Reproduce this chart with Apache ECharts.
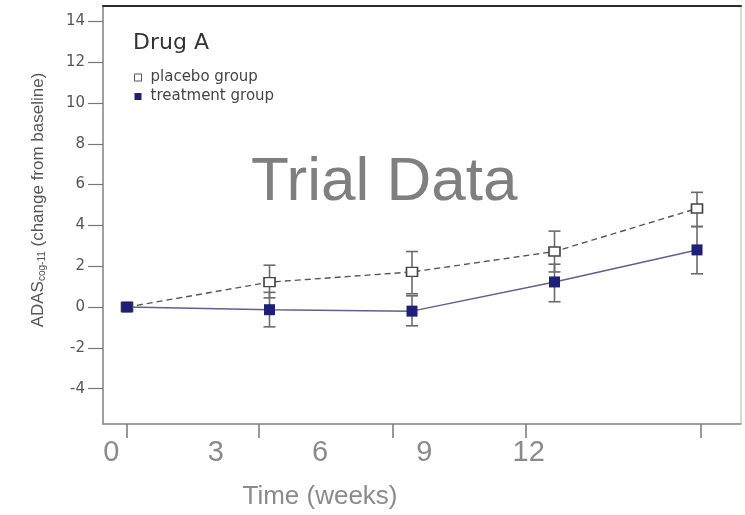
<!DOCTYPE html>
<html>
<head>
<meta charset="utf-8">
<script src="https://cdn.jsdelivr.net/npm/echarts@6/dist/echarts.min.js"></script>
<style>html,body{margin:0;padding:0;background:#fff}#c{width:745px;height:515px}</style>
</head>
<body>
<div id="c"></div>
<script>
// ---- data ----
var weeks = [0, 4, 8, 12, 16];
var placeboMean = [0, 1.22, 1.72, 2.72, 4.83];
var placeboLow  = [null, 0.45, 0.65, 1.72, 3.94];
var placeboHigh = [null, 2.05, 2.72, 3.72, 5.62];
var treatMean = [0, -0.13, -0.2, 1.23, 2.8];
var treatLow  = [null, -0.97, -0.92, 0.26, 1.63];
var treatHigh = [null, 0.72, 0.55, 2.1, 3.95];
var xTickWeeks = [0, 3.7, 7.45, 11.2, 16.1];
var xLabels = [0, 3, 6, 9, 12];
var yTicks = [-4, -2, 0, 2, 4, 6, 8, 10, 12, 14];
var seriesNames = ['placebo group', 'treatment group'];

function pairs(xs, ys) { return xs.map(function (x, i) { return [x, ys[i]]; }); }
function bars(xs, lo, hi) {
  var out = [];
  xs.forEach(function (x, i) { if (lo[i] != null) out.push([x, lo[i], hi[i]]); });
  return out;
}
function errRender(params, api) {
  var x = api.value(0);
  var p1 = api.coord([x, api.value(1)]);
  var p2 = api.coord([x, api.value(2)]);
  var w = 6;
  var st = { stroke: '#6b6b6b', lineWidth: 1.6 };
  return { type: 'group', children: [
    { type: 'line', shape: { x1: p1[0], y1: p1[1], x2: p2[0], y2: p2[1] }, style: st },
    { type: 'line', shape: { x1: p1[0] - w, y1: p1[1], x2: p1[0] + w, y2: p1[1] }, style: st },
    { type: 'line', shape: { x1: p2[0] - w, y1: p2[1], x2: p2[0] + w, y2: p2[1] }, style: st }
  ]};
}

var chart = echarts.init(document.getElementById('c'), null, { renderer: 'canvas' });
var grey = '#8a8a8a';
chart.setOption({
  animation: false,
  backgroundColor: '#fff',
  title: [
    { text: 'Drug A', left: 128, top: 27,
      textStyle: { fontFamily: 'DejaVu Sans', fontSize: 22, fontWeight: 'normal', color: '#333' } },
    { text: 'Trial Data', left: 246, top: 147,
      textStyle: { fontFamily: 'Liberation Sans', fontSize: 62, fontWeight: 'normal', color: '#7f7f7f' } }
  ],
  legend: {
    orient: 'vertical', left: 129, top: 65, itemWidth: 7, itemHeight: 7, itemGap: 4,
    icon: 'rect',
    textStyle: { fontFamily: 'DejaVu Sans', fontSize: 15, color: '#444', padding: [0, 0, 0, 4] },
    data: [
      { name: seriesNames[0], itemStyle: { color: '#fff', borderColor: '#555', borderWidth: 1 } },
      { name: seriesNames[1], itemStyle: { color: '#1f1f78', borderWidth: 0 } }
    ]
  },
  grid: { left: 103, right: 4, top: 6, bottom: 88, show: true, borderColor: '#b5b5b5', borderWidth: 1 },
  xAxis: [
    { type: 'value', min: -0.674, max: 17.235, position: 'bottom',
      axisLine: { show: true, onZero: false, lineStyle: { color: '#8c8c8c', width: 1.5 } },
      axisTick: { show: true, length: 14, customValues: xTickWeeks, lineStyle: { color: '#777', width: 1.5 } },
      axisLabel: { show: false }, splitLine: { show: false } },
    { type: 'value', min: -0.2416, max: 18.107, position: 'bottom',
      axisLine: { show: false, onZero: false }, axisTick: { show: false }, splitLine: { show: false },
      axisLabel: { customValues: xLabels, margin: 14, fontFamily: 'Liberation Sans', fontSize: 29, color: grey },
      name: 'Time (weeks)', nameLocation: 'middle', nameGap: 60,
      nameTextStyle: { fontFamily: 'Liberation Sans', fontSize: 26, color: grey, padding: [0, 204, 0, 0] } },
    { type: 'value', position: 'top', min: 0, max: 1,
      axisLine: { show: true, onZero: false, lineStyle: { color: '#2a2a2a', width: 2 } },
      axisTick: { show: false }, axisLabel: { show: false }, splitLine: { show: false } }
  ],
  yAxis: {
    type: 'value', min: -5.73, max: 14.75,
    axisLine: { show: true, onZero: false, lineStyle: { color: '#8c8c8c', width: 1.5 } },
    axisTick: { show: true, length: 15, customValues: yTicks, lineStyle: { color: '#777', width: 1.2 } },
    axisLabel: { customValues: yTicks, margin: 18, fontFamily: 'DejaVu Sans', fontSize: 15, color: '#555' },
    splitLine: { show: false },
    name: '{a|ADAS}{s|cog-11}{a| (change from baseline)}',
    nameLocation: 'middle', nameGap: 56,
    nameTextStyle: {
      padding: [0, 0, 0, 30],
      rich: {
        a: { fontFamily: 'Liberation Sans', fontSize: 17, color: '#555' },
        s: { fontFamily: 'Liberation Sans', fontSize: 10, color: '#555', padding: [8, 0, 0, 0] }
      }
    }
  },
  series: [
    { type: 'custom', name: 'placebo err', renderItem: errRender, data: bars(weeks, placeboLow, placeboHigh), z: 1, encode: { x: 0, y: [1, 2] } },
    { type: 'custom', name: 'treatment err', renderItem: errRender, data: bars(weeks, treatLow, treatHigh), z: 1, encode: { x: 0, y: [1, 2] } },
    { type: 'line', name: seriesNames[0], data: pairs(weeks, placeboMean), z: 3,
      symbol: 'rect', symbolSize: [11, 9],
      lineStyle: { color: '#555', width: 1.4, type: [6, 4] },
      itemStyle: { color: '#fff', borderColor: '#444', borderWidth: 1.5 } },
    { type: 'line', name: seriesNames[1], data: pairs(weeks, treatMean), z: 4,
      symbol: 'rect', symbolSize: 11,
      lineStyle: { color: '#5d6090', width: 1.5 },
      itemStyle: { color: '#1f1f78', borderColor: '#1f1f78', borderWidth: 0 } }
  ]
});
</script>
</body>
</html>
